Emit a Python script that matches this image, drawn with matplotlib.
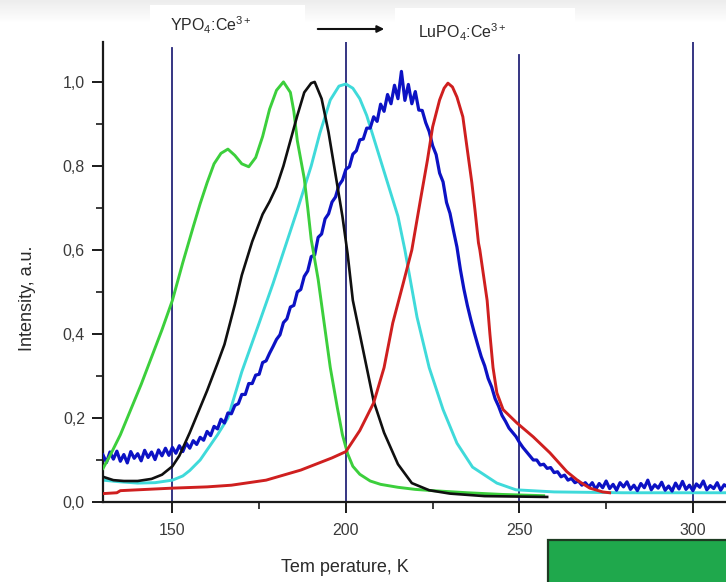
import numpy as np
import matplotlib
matplotlib.use("Agg")
import matplotlib.pyplot as plt
from matplotlib.patches import Rectangle
from matplotlib.ticker import FuncFormatter, MultipleLocator

plt.rcParams['font.family'] = ['Liberation Sans', 'DejaVu Sans']
plt.rcParams['mathtext.fontset'] = 'custom'
plt.rcParams['mathtext.rm'] = 'Liberation Sans'
plt.rcParams['mathtext.it'] = 'Liberation Sans'

# ---------------- data ----------------
green_T = [130, 132, 135, 138, 141, 144, 147, 150, 153, 156, 158, 160, 162, 164, 166, 168,
           170, 172, 174, 176, 178, 180, 182, 184, 185, 186, 188, 189, 190, 192, 193.5,
           195.5, 197.5, 199, 200.5, 202, 204, 207, 210, 215, 220, 225, 235, 245, 257]
green_I = [0.08, 0.11, 0.16, 0.22, 0.28, 0.345, 0.41, 0.48, 0.57, 0.655, 0.71, 0.76, 0.805,
           0.83, 0.84, 0.825, 0.805, 0.798, 0.82, 0.87, 0.935, 0.98, 1.0, 0.975, 0.93, 0.86,
           0.77, 0.70, 0.625, 0.53, 0.44, 0.32, 0.226, 0.16, 0.115, 0.085, 0.066, 0.05,
           0.042, 0.035, 0.03, 0.027, 0.022, 0.018, 0.015]

black_T = [130, 133, 136, 140, 144, 147, 150, 152, 155, 158, 160, 163, 165, 168, 170, 173,
           176, 178, 180, 182, 184, 186, 188, 190, 191, 193, 195, 197, 199, 200.5, 202, 205,
           208, 211, 215, 219, 224, 230, 240, 258]
black_I = [0.06, 0.052, 0.05, 0.05, 0.055, 0.065, 0.085, 0.11, 0.165, 0.225, 0.265, 0.33,
           0.375, 0.47, 0.54, 0.62, 0.685, 0.715, 0.75, 0.8, 0.86, 0.92, 0.975, 0.997, 1.0,
           0.96, 0.88, 0.78, 0.68, 0.59, 0.48, 0.36, 0.24, 0.165, 0.09, 0.045, 0.028, 0.02,
           0.014, 0.012]

cyan_T = [130, 135, 140, 145, 150, 153, 155, 158, 160, 163, 166, 170, 175, 179, 182, 186,
          190, 192.5, 195.5, 198, 200, 202, 204, 206, 209, 212, 215, 217, 220.5, 224, 228,
          232, 236.5, 243.5, 249, 260, 280, 310]
cyan_I = [0.052, 0.048, 0.045, 0.046, 0.052, 0.062, 0.075, 0.1, 0.124, 0.16, 0.2, 0.31,
          0.426, 0.52, 0.595, 0.695, 0.8, 0.878, 0.957, 0.99, 0.995, 0.985, 0.96, 0.92,
          0.84, 0.76, 0.68, 0.6, 0.44, 0.32, 0.22, 0.14, 0.083, 0.045, 0.029, 0.024,
          0.022, 0.022]

red_T = [130, 134, 135, 140, 150, 160, 167, 177, 187, 196, 200, 204, 208, 211, 213.5, 216.5,
         219, 221.5, 223.5, 225, 227, 228.3, 229.4, 230.7, 232, 233.7, 235, 236.3, 237.2,
         238.2, 238.6, 240.7, 241.5, 242.4, 243.5, 245.3, 249.3, 254, 258.8, 263.7, 267,
         270.3, 274, 276]
red_I = [0.02, 0.022, 0.027, 0.029, 0.033, 0.036, 0.04, 0.052, 0.076, 0.105, 0.12, 0.17,
         0.236, 0.32, 0.426, 0.52, 0.60, 0.72, 0.814, 0.893, 0.957, 0.985, 0.997, 0.988,
         0.964, 0.917, 0.838, 0.76, 0.695, 0.617, 0.60, 0.48, 0.40, 0.32, 0.26, 0.22,
         0.188, 0.155, 0.117, 0.072, 0.05, 0.033, 0.024, 0.022]

blue_T = list(range(130, 311))
blue_I = [0.112, 0.094, 0.119, 0.102, 0.121, 0.097, 0.113, 0.093, 0.120, 0.104,
          0.115, 0.098, 0.123, 0.106, 0.119, 0.101, 0.124, 0.110, 0.128, 0.111,
          0.130, 0.116, 0.134, 0.120, 0.140, 0.128, 0.146, 0.137, 0.154, 0.147,
          0.168, 0.158, 0.180, 0.174, 0.197, 0.188, 0.212, 0.210, 0.230, 0.234,
          0.256, 0.256, 0.282, 0.282, 0.302, 0.304, 0.332, 0.336, 0.354, 0.370,
          0.387, 0.398, 0.427, 0.436, 0.464, 0.468, 0.500, 0.506, 0.537, 0.550,
          0.584, 0.588, 0.630, 0.638, 0.674, 0.686, 0.714, 0.726, 0.754, 0.766,
          0.792, 0.798, 0.828, 0.836, 0.862, 0.864, 0.890, 0.890, 0.917, 0.906,
          0.947, 0.930, 0.970, 0.948, 0.992, 0.960, 1.025, 0.956, 0.994, 0.948,
          0.977, 0.933, 0.932, 0.903, 0.882, 0.848, 0.827, 0.783, 0.762, 0.713,
          0.687, 0.646, 0.607, 0.553, 0.507, 0.468, 0.434, 0.403, 0.374, 0.346,
          0.324, 0.294, 0.274, 0.246, 0.228, 0.206, 0.192, 0.176, 0.166, 0.156,
          0.142, 0.130, 0.120, 0.110, 0.100, 0.100, 0.088, 0.090, 0.080, 0.082,
          0.070, 0.072, 0.060, 0.064, 0.052, 0.056, 0.046, 0.050, 0.040, 0.046,
          0.036, 0.046, 0.030, 0.044, 0.034, 0.050, 0.032, 0.042, 0.028, 0.046,
          0.036, 0.048, 0.030, 0.040, 0.027, 0.044, 0.034, 0.052, 0.029, 0.041,
          0.033, 0.047, 0.028, 0.038, 0.026, 0.045, 0.031, 0.049, 0.030, 0.040,
          0.027, 0.043, 0.035, 0.050, 0.029, 0.039, 0.032, 0.046, 0.028, 0.041,
          0.036]

ref_lines = [150, 200, 250, 300]
x_ticks = [150, 200, 250, 300]
y_ticks = [0.0, 0.2, 0.4, 0.6, 0.8, 1.0]

# ---------------- figure ----------------
W, H = 726, 582
fig = plt.figure(figsize=(W / 100, H / 100), dpi=100)
fig.patch.set_facecolor('white')

# light grey slide band at the very top
bg = fig.add_axes([0, 0, 1, 1], zorder=-5)
bg.set_axis_off()
grad = np.ones((H, 2, 3))
for i in range(22):
    v = 0.93 + 0.07 * (i / 22)
    grad[i, :, :] = v
bg.imshow(grad, aspect='auto', extent=[0, 1, 0, 1])
bg.set_xlim(0, 1)
bg.set_ylim(0, 1)

ax = fig.add_axes([103 / W, 80 / H, (W - 103) / W, 460 / H])
ax.set_facecolor('none')
ax.set_xlim(130, 130 + (W - 103) / 3.47)
ax.set_ylim(0, 1.095)

ymaxs = [1.08 / 1.095, 1.0, 1.065 / 1.095, 1.0]
for xv, ym in zip(ref_lines, ymaxs):
    ax.axvline(xv, ymin=0, ymax=ym, color='#25257a', lw=1.3, zorder=1)

ax.plot(cyan_T, cyan_I, color='#3fdada', lw=2.1, zorder=2, solid_joinstyle='round')
ax.plot(blue_T, blue_I, color='#0c12c4', lw=2.3, zorder=3, solid_joinstyle='round')
ax.plot(green_T, green_I, color='#3ccf3c', lw=2.1, zorder=4, solid_joinstyle='round')
ax.plot(black_T, black_I, color='#101010', lw=1.9, zorder=5, solid_joinstyle='round')
ax.plot(red_T, red_I, color='#cf1f1f', lw=2.1, zorder=6, solid_joinstyle='round')

for s in ['top', 'right']:
    ax.spines[s].set_visible(False)
for s in ['left', 'bottom']:
    ax.spines[s].set_linewidth(1.6)
    ax.spines[s].set_color('#1a1a1a')

ax.set_xticks(x_ticks)
ax.set_yticks(y_ticks)
ax.xaxis.set_minor_locator(MultipleLocator(25))
ax.yaxis.set_minor_locator(MultipleLocator(0.1))
fmt = FuncFormatter(lambda v, p: f"{v:.1f}".replace('.', ','))
ax.yaxis.set_major_formatter(fmt)
ax.tick_params(which='major', direction='out', length=8, width=1.4, color='#1a1a1a',
               labelsize=11.5, labelcolor='#3a3a3a')
ax.tick_params(which='minor', direction='out', length=5, width=1.2, color='#1a1a1a')
ax.tick_params(axis='x', pad=7)
ax.tick_params(axis='y', pad=5)

fig.text(345 / W, 1 - 568 / H, 'Tem perature, K', ha='center', va='center',
         fontsize=13, color='#2a2a2a')
fig.text(27 / W, 1 - 298 / H, 'Intensity, a.u.', ha='center', va='center',
         rotation=90, fontsize=13, color='#2a2a2a')

# title boxes
fig.patches.append(Rectangle((150 / W, 1 - 45 / H), 155 / W, 40 / H, transform=fig.transFigure,
                             facecolor='white', edgecolor='none', zorder=0))
fig.patches.append(Rectangle((395 / W, 1 - 50 / H), 180 / W, 42 / H, transform=fig.transFigure,
                             facecolor='white', edgecolor='none', zorder=0))
fig.text(170 / W, 1 - 25 / H, r'YPO$_4$:Ce$^{3+}$', ha='left', va='center',
         fontsize=11.5, color='#2a2a2a')
fig.text(418 / W, 1 - 32 / H, r'LuPO$_4$:Ce$^{3+}$', ha='left', va='center',
         fontsize=11.5, color='#2a2a2a')
fig.add_artist(matplotlib.patches.FancyArrowPatch(
    (315 / W, 1 - 29 / H), (387 / W, 1 - 29 / H), transform=fig.transFigure,
    arrowstyle='-|>', mutation_scale=10, lw=1.5, color='#111111'))

# green box bottom right
fig.patches.append(Rectangle((548 / W, -0.01), (W - 548) / W + 0.02, (42 / H) + 0.01,
                             transform=fig.transFigure, facecolor='#1fa84c',
                             edgecolor='#1d3b22', lw=1.6, zorder=3))

fig.savefig('out.png', dpi=100)
